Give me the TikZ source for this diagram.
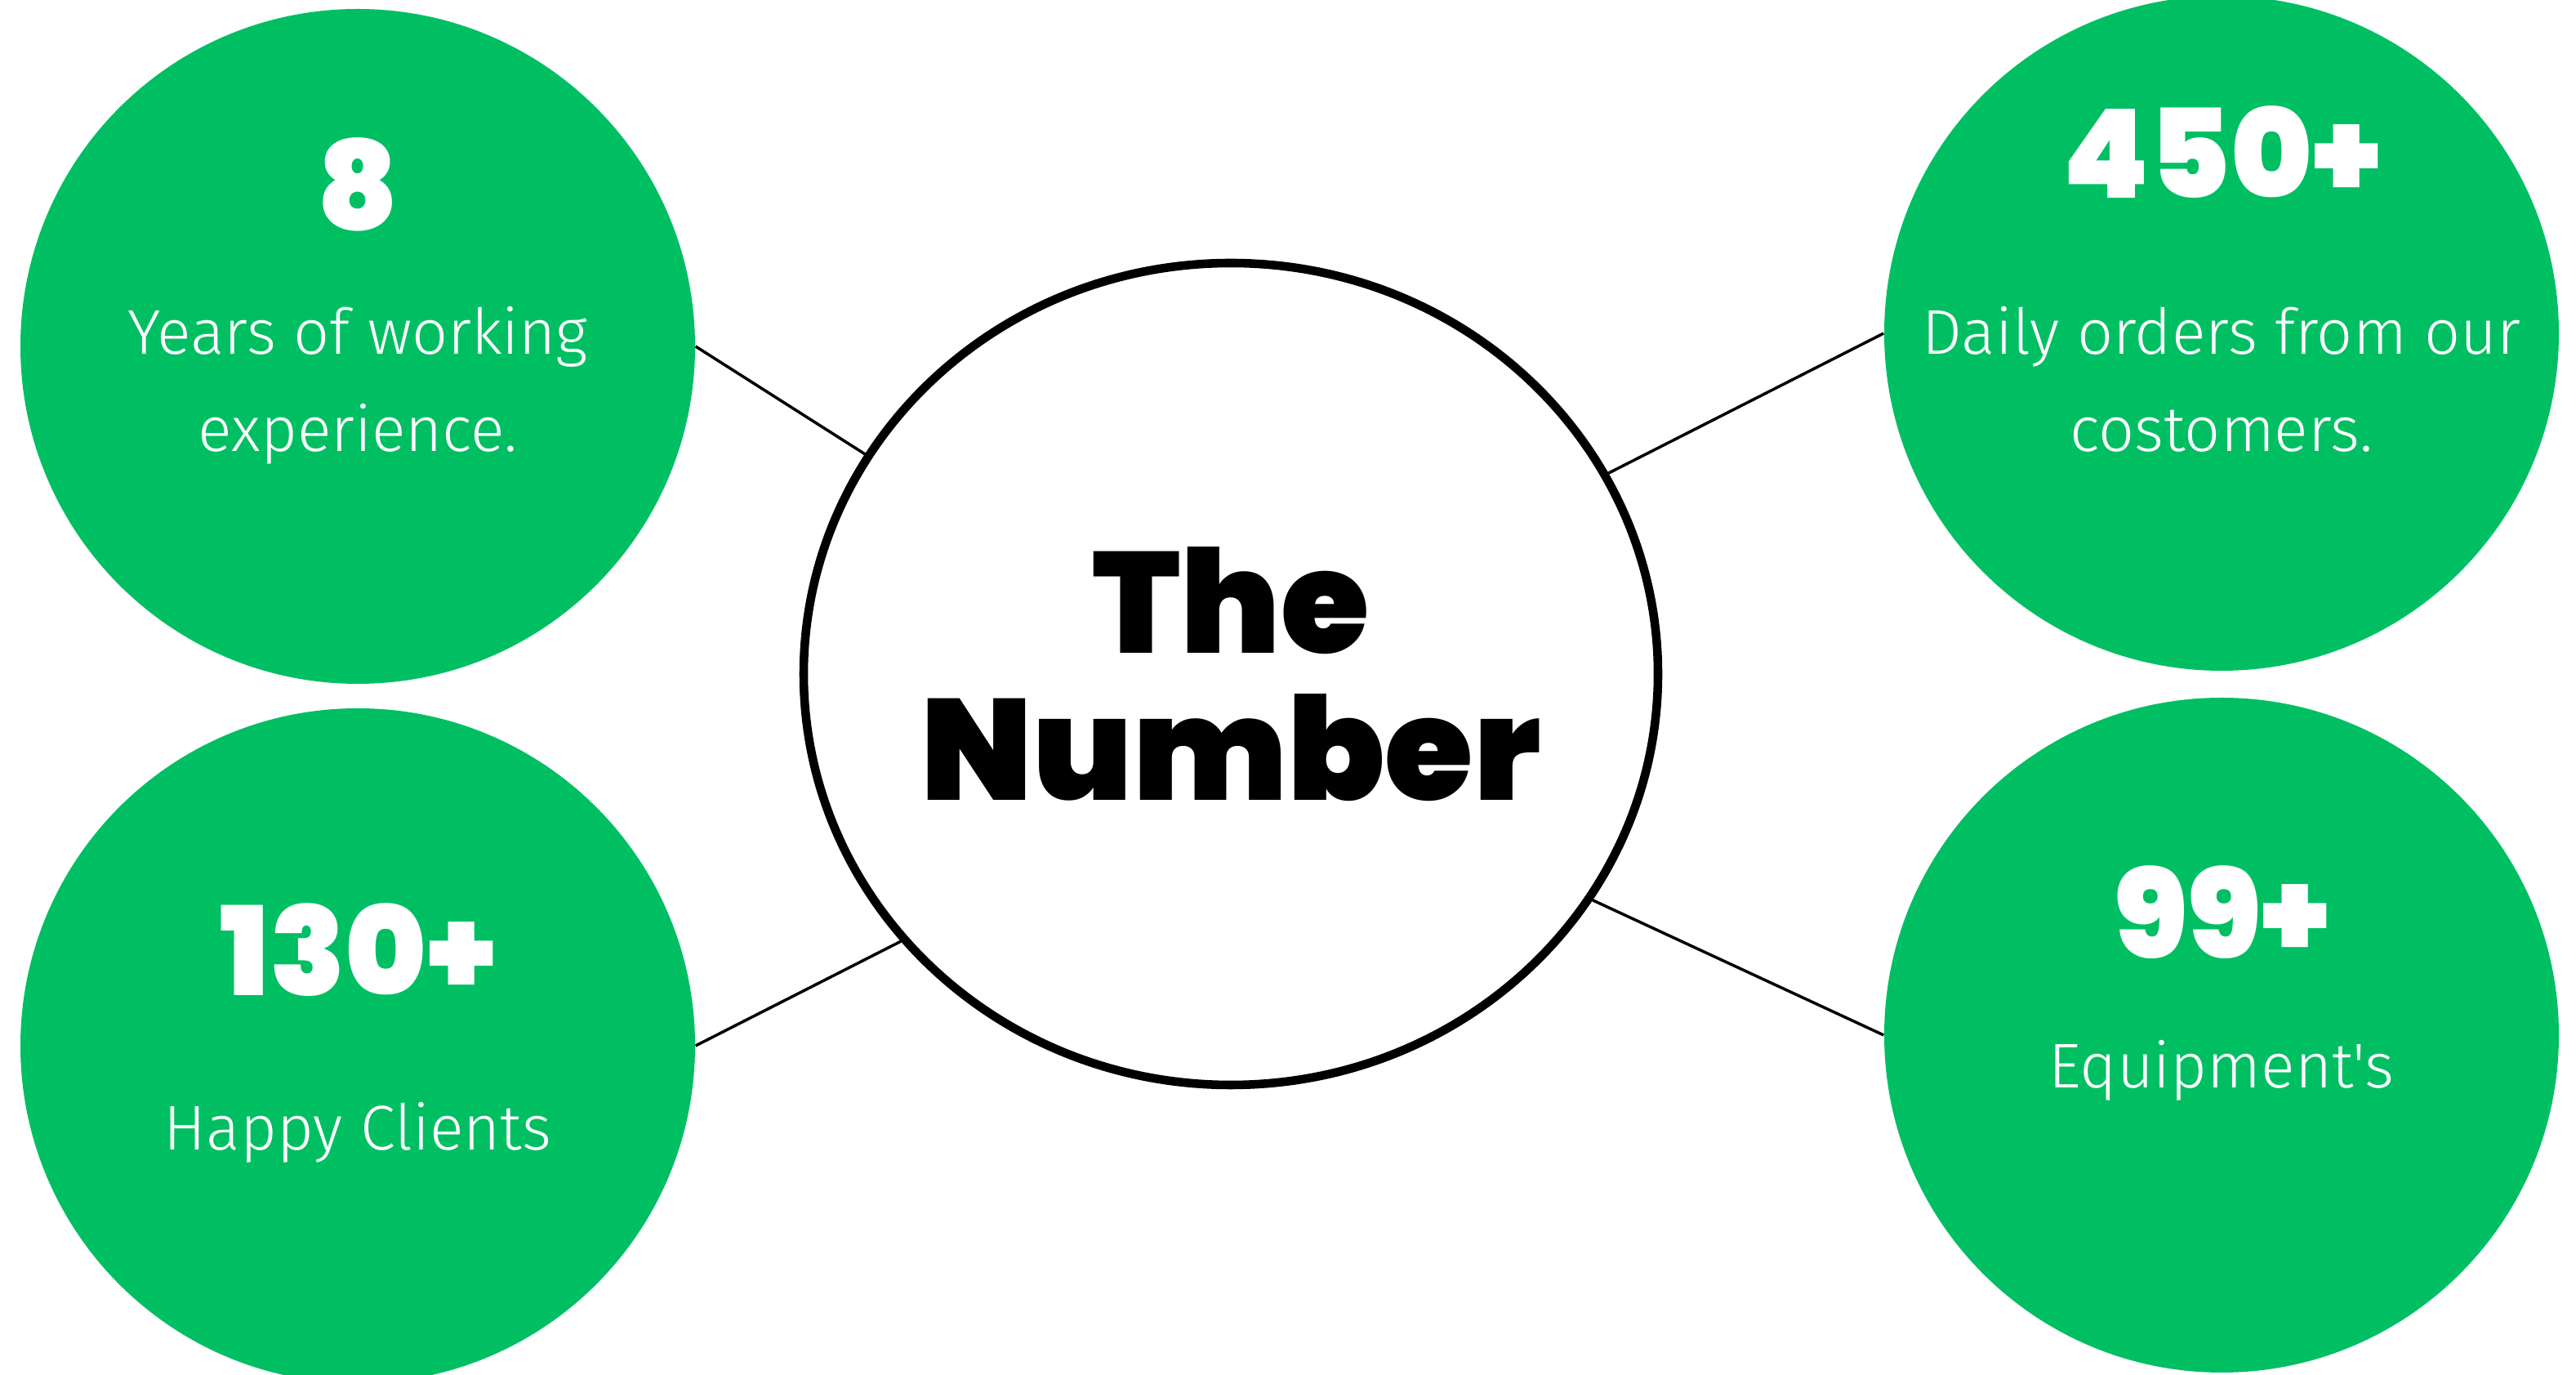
\documentclass[tikz,border=0pt]{standalone}
\usepackage{fontspec}
\setmainfont{Fira Sans Light}[Ligatures=TeXOff]
\newfontfamily\heavyfont{Poppins Black}
\usetikzlibrary{shapes.geometric}
\definecolor{statgreen}{RGB}{0,191,99}
\begin{document}
\begin{tikzpicture}[stat/.style={circle, fill=statgreen, minimum size=8.26cm, inner sep=0pt}, num/.style={anchor=base, text=white, font=\heavyfont\fontsize{43}{43}\selectfont}, lab/.style={anchor=base, text=white, align=center, font=\fontsize{22}{34}\selectfont}, link/.style={line width=1pt}]
\useasboundingbox (0,0) rectangle (31.54,16.83);
\node[ellipse, draw, line width=3pt, minimum width=10.46cm, minimum height=10.06cm, inner sep=0pt] (hub) at (15.07,8.58) {};
\node[align=center, font=\heavyfont\fontsize{50}{51}\selectfont] (hub-txt) at (hub) {The\\Number};
\foreach \name/\x/\y/\num/\ny/\txt/\ty in {years/4.38/12.59/8/14.01/{Years of working\\experience.}/11.30, orders/27.20/12.75/450+/14.40/{Daily orders from our\\costomers.}/11.30, clients/4.38/4.03/130+/4.64/{Happy Clients}/2.75, equip/27.20/4.16/99+/5.10/{Equipment's}/3.51}{\node[stat] (\name) at (\x,\y) {};\node[num] (\name-num) at (\x,\ny) {\num};\node[lab] (\name-txt) at (\x,\ty) {\txt};}
\foreach \a/\b in {years.east/hub.149, orders.west/hub.28, clients.east/hub.219, equip.west/hub.328}{\draw[link] (\a) -- (\b);}
\end{tikzpicture}
\end{document}
